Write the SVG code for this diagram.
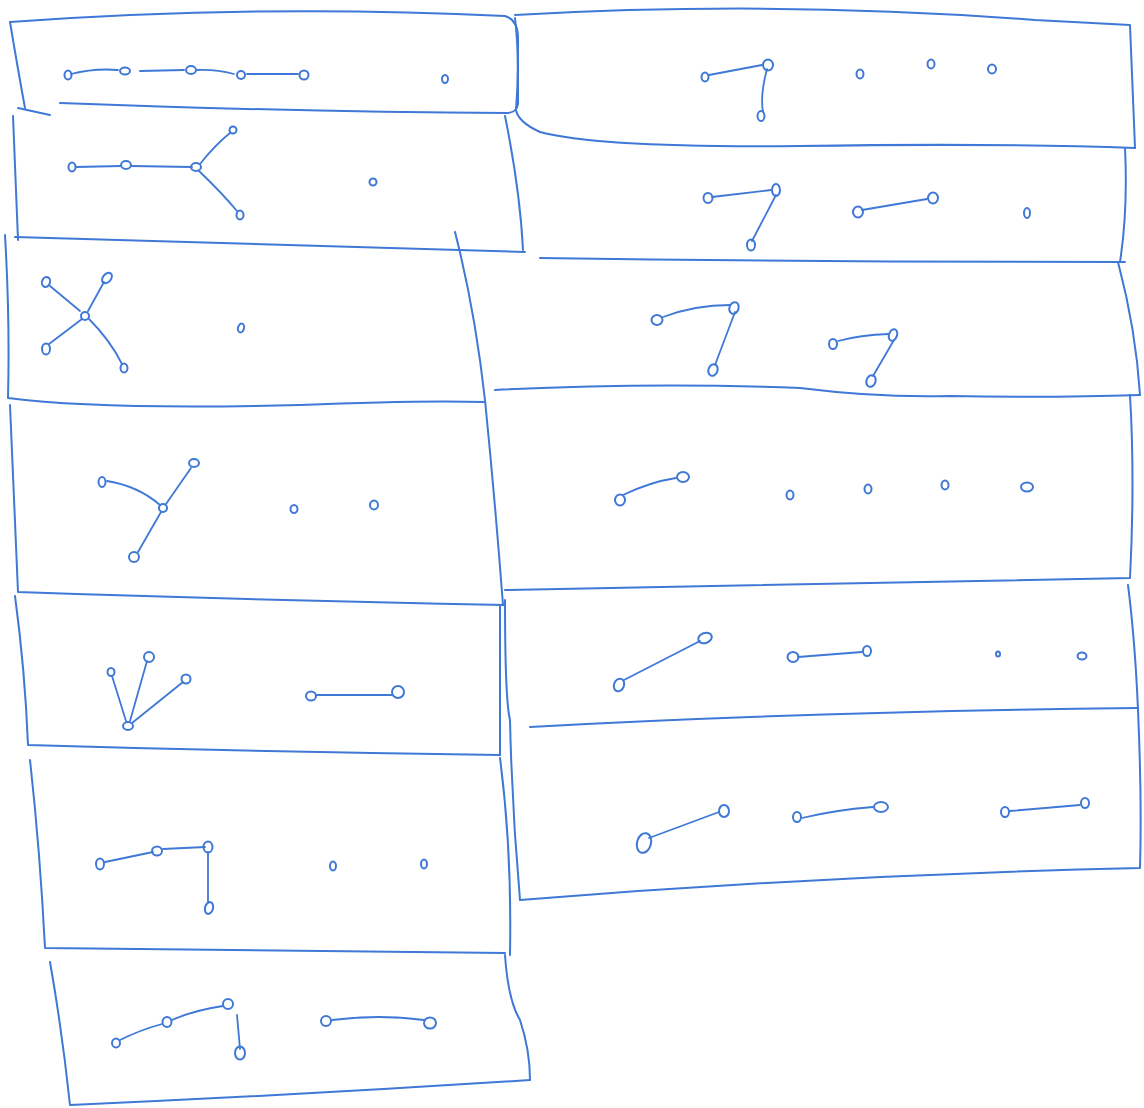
<svg xmlns="http://www.w3.org/2000/svg" width="1144" height="1108" viewBox="0 0 1144 1108">
<style>
.b{fill:none;stroke:#3f78d6;stroke-width:2;stroke-linecap:round;stroke-linejoin:round}
.e{fill:none;stroke:#3f78d6;stroke-width:1.8;stroke-linecap:round}
.n{fill:none;stroke:#3f78d6;stroke-width:2}
</style>
<rect width="1144" height="1108" fill="#ffffff"/>
<g id="frames">
<path class="b" d="M10,22 Q260,4 505,16 Q518,20 518,38 L518,104 Q517,112 508,113 Q300,112 60,103"/>
<path class="b" d="M10,22 Q18,70 25,108"/>
<path class="b" d="M18,108 L50,115"/>
<path class="b" d="M13,116 L18,240"/>
<path class="b" d="M15,237 Q270,244 525,252"/>
<path class="b" d="M505,116 Q520,190 523,250"/>
<path class="b" d="M455,232 Q475,310 485,400 Q495,500 503,605"/>
<path class="b" d="M5,235 Q10,320 8,398 Q100,410 300,405 Q420,400 485,402"/>
<path class="b" d="M10,405 Q14,500 18,592 Q250,600 505,605"/>
<path class="b" d="M15,596 Q25,670 28,745 Q260,752 500,755"/>
<path class="b" d="M500,605 L500,755"/>
<path class="b" d="M30,760 Q40,850 45,948 Q270,950 505,953"/>
<path class="b" d="M500,758 Q512,850 510,955"/>
<path class="b" d="M50,962 Q62,1030 70,1105 Q300,1095 530,1080"/>
<path class="b" d="M505,955 Q508,1000 520,1020 Q530,1050 530,1080"/>
<path class="b" d="M515,15 Q780,0 1035,20 L1130,25 L1135,148"/>
<path class="b" d="M515,18 Q520,60 516,110 Q518,122 540,132 Q600,148 800,146 Q1000,143 1135,148"/>
<path class="b" d="M1125,148 Q1128,210 1120,262"/>
<path class="b" d="M540,258 Q830,262 1125,262"/>
<path class="b" d="M1118,262 Q1136,330 1140,395"/>
<path class="b" d="M495,390 Q650,382 800,388 Q880,398 950,396 Q1050,398 1140,395"/>
<path class="b" d="M505,590 Q800,585 1130,578 Q1135,480 1130,395"/>
<path class="b" d="M505,600 Q505,700 510,720 Q512,810 520,900"/>
<path class="b" d="M1128,585 Q1135,640 1138,710"/>
<path class="b" d="M530,727 Q800,712 1138,708"/>
<path class="b" d="M1138,710 Q1142,800 1140,868 Q830,875 520,900"/>
</g>
<g id="connectors">
<path class="e" d="M71,74 Q95,68 118,70"/>
<path class="e" d="M140,71 L184,70"/>
<path class="e" d="M197,70 Q215,69 234,74"/>
<path class="e" d="M247,74 L298,74"/>
<path class="e" d="M76,167 L121,166"/>
<path class="e" d="M131,166 L192,167"/>
<path class="e" d="M200,164 Q215,145 230,133"/>
<path class="e" d="M199,171 Q222,193 237,211"/>
<path class="e" d="M50,286 L80,311"/>
<path class="e" d="M104,282 L88,311"/>
<path class="e" d="M82,319 L49,344"/>
<path class="e" d="M89,319 Q110,340 122,364"/>
<path class="e" d="M107,481 Q138,486 160,505"/>
<path class="e" d="M191,468 L166,504"/>
<path class="e" d="M161,512 L138,552"/>
<path class="e" d="M112,676 L126,721"/>
<path class="e" d="M147,661 L130,721"/>
<path class="e" d="M183,682 L132,723"/>
<path class="e" d="M316,695 L392,695"/>
<path class="e" d="M105,862 L153,852"/>
<path class="e" d="M163,849 L205,847"/>
<path class="e" d="M208,852 L208,903"/>
<path class="e" d="M120,1040 Q140,1030 162,1024"/>
<path class="e" d="M172,1020 Q195,1010 223,1006"/>
<path class="e" d="M237,1015 L240,1049"/>
<path class="e" d="M332,1020 Q380,1014 424,1020"/>
<path class="e" d="M709,75 L762,65"/>
<path class="e" d="M767,69 Q760,95 763,112"/>
<path class="e" d="M712,197 L771,190"/>
<path class="e" d="M776,195 L752,241"/>
<path class="e" d="M862,210 L927,199"/>
<path class="e" d="M663,317 Q695,305 730,305"/>
<path class="e" d="M735,312 L715,365"/>
<path class="e" d="M838,341 Q860,335 889,334"/>
<path class="e" d="M894,340 L873,376"/>
<path class="e" d="M623,495 Q650,482 676,478"/>
<path class="e" d="M624,680 L700,641"/>
<path class="e" d="M798,657 L862,652"/>
<path class="e" d="M649,838 L719,812"/>
<path class="e" d="M802,818 Q835,810 873,807"/>
<path class="e" d="M1010,811 L1080,805"/>
</g>
<g id="nodes">
<g id="L1"><ellipse class="n" cx="68" cy="75" rx="3.5" ry="4.5"/><ellipse class="n" cx="125" cy="71" rx="5" ry="3.5"/><ellipse class="n" cx="191" cy="70" rx="5" ry="4"/><ellipse class="n" cx="241" cy="75" rx="4" ry="4"/><ellipse class="n" cx="304" cy="75" rx="4.5" ry="4.5"/><ellipse class="n" cx="445" cy="79" rx="3" ry="4"/></g>
<g id="L2"><ellipse class="n" cx="72" cy="167" rx="3.5" ry="4.5"/><ellipse class="n" cx="126" cy="165" rx="5" ry="4"/><ellipse class="n" cx="196" cy="167" rx="5" ry="4"/><ellipse class="n" cx="233" cy="130" rx="3.5" ry="3.5"/><ellipse class="n" cx="240" cy="215" rx="3.5" ry="4.5"/><ellipse class="n" cx="373" cy="182" rx="3.5" ry="3.5"/></g>
<g id="L3"><ellipse class="n" cx="46" cy="282" rx="4" ry="5" transform="rotate(20 46 282)"/><ellipse class="n" cx="107" cy="278" rx="4" ry="6" transform="rotate(40 107 278)"/><ellipse class="n" cx="85" cy="316" rx="4" ry="4"/><ellipse class="n" cx="46" cy="349" rx="4" ry="5.5"/><ellipse class="n" cx="124" cy="368" rx="3.5" ry="4.5"/><ellipse class="n" cx="241" cy="328" rx="3" ry="4.5" transform="rotate(15 241 328)"/></g>
<g id="L4"><ellipse class="n" cx="102" cy="482" rx="3.5" ry="5"/><ellipse class="n" cx="194" cy="463" rx="5" ry="4"/><ellipse class="n" cx="163" cy="508" rx="4" ry="4"/><ellipse class="n" cx="134" cy="557" rx="5" ry="5"/><ellipse class="n" cx="294" cy="509" rx="3.5" ry="4"/><ellipse class="n" cx="374" cy="505" rx="4" ry="4.5"/></g>
<g id="L5"><ellipse class="n" cx="111" cy="672" rx="3.5" ry="4"/><ellipse class="n" cx="149" cy="657" rx="5" ry="5"/><ellipse class="n" cx="186" cy="679" rx="4.5" ry="4.5"/><ellipse class="n" cx="128" cy="726" rx="5" ry="4"/><ellipse class="n" cx="311" cy="696" rx="5" ry="4.5"/><ellipse class="n" cx="398" cy="692" rx="6" ry="6"/></g>
<g id="L6"><ellipse class="n" cx="100" cy="864" rx="4" ry="5.5"/><ellipse class="n" cx="157" cy="851" rx="5" ry="4.5"/><ellipse class="n" cx="208" cy="847" rx="4.5" ry="5.5"/><ellipse class="n" cx="209" cy="908" rx="4" ry="6" transform="rotate(15 209 908)"/><ellipse class="n" cx="333" cy="866" rx="3" ry="4.5"/><ellipse class="n" cx="424" cy="864" rx="3" ry="4.5"/></g>
<g id="L7"><ellipse class="n" cx="116" cy="1043" rx="4" ry="4.5"/><ellipse class="n" cx="167" cy="1022" rx="4.5" ry="5"/><ellipse class="n" cx="228" cy="1004" rx="5" ry="5"/><ellipse class="n" cx="240" cy="1053" rx="5" ry="6.5"/><ellipse class="n" cx="326" cy="1021" rx="5" ry="5"/><ellipse class="n" cx="430" cy="1023" rx="6" ry="5.5"/></g>
<g id="R1"><ellipse class="n" cx="705" cy="77" rx="3.5" ry="4.5"/><ellipse class="n" cx="768" cy="65" rx="5" ry="5.5"/><ellipse class="n" cx="761" cy="116" rx="3.5" ry="5"/><ellipse class="n" cx="860" cy="74" rx="3.5" ry="4.5"/><ellipse class="n" cx="931" cy="64" rx="3.5" ry="4.5"/><ellipse class="n" cx="992" cy="69" rx="4" ry="4.5"/></g>
<g id="R2"><ellipse class="n" cx="708" cy="198" rx="4.5" ry="5"/><ellipse class="n" cx="776" cy="190" rx="4" ry="6"/><ellipse class="n" cx="751" cy="245" rx="4" ry="5.5"/><ellipse class="n" cx="858" cy="212" rx="5" ry="5.5"/><ellipse class="n" cx="933" cy="198" rx="5" ry="5.5"/><ellipse class="n" cx="1027" cy="213" rx="3" ry="5"/></g>
<g id="R3"><ellipse class="n" cx="657" cy="320" rx="5.5" ry="5"/><ellipse class="n" cx="734" cy="308" rx="4.5" ry="6" transform="rotate(20 734 308)"/><ellipse class="n" cx="713" cy="370" rx="4.5" ry="6" transform="rotate(20 713 370)"/><ellipse class="n" cx="833" cy="344" rx="4" ry="5"/><ellipse class="n" cx="893" cy="335" rx="4" ry="6" transform="rotate(20 893 335)"/><ellipse class="n" cx="871" cy="381" rx="4.5" ry="6" transform="rotate(20 871 381)"/></g>
<g id="R4"><ellipse class="n" cx="620" cy="500" rx="5" ry="5.5"/><ellipse class="n" cx="683" cy="477" rx="6" ry="5"/><ellipse class="n" cx="790" cy="495" rx="3.5" ry="4.5"/><ellipse class="n" cx="868" cy="489" rx="3.5" ry="4.5"/><ellipse class="n" cx="945" cy="485" rx="3.5" ry="4.5"/><ellipse class="n" cx="1027" cy="487" rx="6" ry="4.5"/></g>
<g id="R5"><ellipse class="n" cx="619" cy="685" rx="5" ry="6.5" transform="rotate(20 619 685)"/><ellipse class="n" cx="705" cy="638" rx="7" ry="5" transform="rotate(-20 705 638)"/><ellipse class="n" cx="793" cy="657" rx="5.5" ry="5"/><ellipse class="n" cx="867" cy="651" rx="4" ry="5"/><ellipse class="n" cx="998" cy="654" rx="2" ry="2.5"/><ellipse class="n" cx="1082" cy="656" rx="4.5" ry="3.5"/></g>
<g id="R6"><ellipse class="n" cx="644" cy="843" rx="7" ry="10" transform="rotate(15 644 843)"/><ellipse class="n" cx="724" cy="811" rx="5" ry="6"/><ellipse class="n" cx="797" cy="817" rx="4" ry="5"/><ellipse class="n" cx="881" cy="807" rx="7" ry="5"/><ellipse class="n" cx="1005" cy="812" rx="4" ry="5"/><ellipse class="n" cx="1085" cy="803" rx="4" ry="5"/></g>
</g>
</svg>
